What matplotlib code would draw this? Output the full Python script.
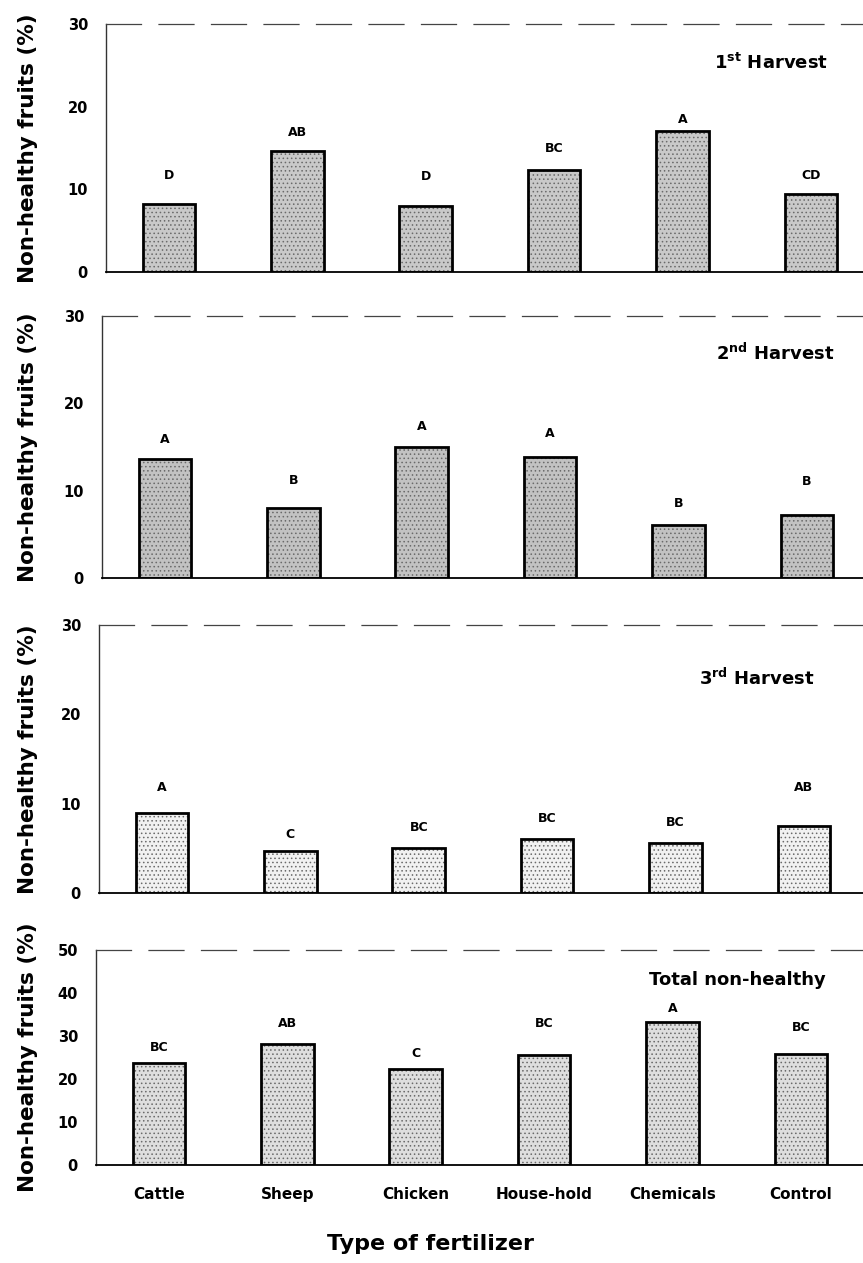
import matplotlib
matplotlib.use("Agg")
import matplotlib.pyplot as plt

plt.rcParams['font.family'] = ['DejaVu Sans']
plt.rcParams['font.weight'] = 'bold'
plt.rcParams['mathtext.default'] = 'bf'
plt.rcParams['hatch.linewidth'] = 0.6

categories = ["Cattle", "Sheep", "Chicken", "House-hold", "Chemicals", "Control"]

harvest1 = [8.2, 14.6, 8.0, 12.3, 17.0, 9.4]
harvest1_letters = ["D", "AB", "D", "BC", "A", "CD"]
harvest1_letter_y = [11.7, 16.9, 11.6, 15.0, 18.5, 11.7]

harvest2 = [13.6, 8.0, 15.0, 13.8, 6.1, 7.2]
harvest2_letters = ["A", "B", "A", "A", "B", "B"]
harvest2_letter_y = [15.9, 11.2, 17.3, 16.6, 8.5, 11.1]

harvest3 = [9.0, 4.7, 5.0, 6.0, 5.6, 7.5]
harvest3_letters = ["A", "C", "BC", "BC", "BC", "AB"]
harvest3_letter_y = [11.8, 6.6, 7.3, 8.3, 7.9, 11.8]

total = [23.8, 28.2, 22.4, 25.6, 33.2, 25.8]
total_letters = ["BC", "AB", "C", "BC", "A", "BC"]
total_letter_y = [27.4, 32.8, 26.0, 33.0, 36.3, 31.9]

panel_titles = [r"1$^{st}$ Harvest", r"2$^{nd}$ Harvest", r"3$^{rd}$ Harvest", "Total non-healthy"]
y_max = [30, 30, 30, 50]
y_ticks = [[0, 10, 20, 30], [0, 10, 20, 30], [0, 10, 20, 30], [0, 10, 20, 30, 40, 50]]

values = [harvest1, harvest2, harvest3, total]
letters = [harvest1_letters, harvest2_letters, harvest3_letters, total_letters]
letter_y = [harvest1_letter_y, harvest2_letter_y, harvest3_letter_y, total_letter_y]

W, H = 863, 1263
fig = plt.figure(figsize=(W / 100, H / 100), dpi=100)

# layout in pixels: (left, y of zero, y of top)
layout = [(106, 272, 24), (102, 578, 316), (99, 893, 625), (96, 1165, 950)]
title_pos = [(828, 63), (834, 353), (815, 678), (826, 980)]
face_shades = ['#c9c9c9', '#c2c2c2', '#f1f1f1', '#dedede']
px_per_cat = 128.4

for i in range(4):
    left, y0, yt = layout[i]
    ax = fig.add_axes([left / W, 1 - y0 / H, 1 - left / W, (y0 - yt) / H])
    x = list(range(len(categories)))
    ax.bar(x, values[i], width=0.41, color=face_shades[i], edgecolor='#6a6a6a',
           hatch='....', linewidth=0, zorder=2)
    ax.bar(x, values[i], width=0.41, fill=False, edgecolor='black', linewidth=2.0, zorder=3)
    for xi, lab, ly in zip(x, letters[i], letter_y[i]):
        ax.text(xi, ly, lab, ha='center', va='center', fontsize=9, fontweight='bold')
    ax.set_xlim(-0.49, -0.49 + (W - left) / px_per_cat)
    ax.set_ylim(0, y_max[i])
    ax.set_yticks(y_ticks[i])
    ax.tick_params(axis='y', length=0, pad=13, labelsize=10.5)
    ax.tick_params(axis='x', length=0, pad=16, labelsize=11)
    if i == 3:
        ax.set_xticks(x)
        ax.set_xticklabels(categories)
    else:
        ax.set_xticks([])
    ax.spines['right'].set_visible(False)
    ax.spines['top'].set_linestyle((0, (28, 14)))
    ax.spines['top'].set_linewidth(0.9)
    ax.spines['top'].set_color('#444444')
    ax.spines['left'].set_linewidth(1.0)
    ax.spines['left'].set_color('#333333')
    ax.spines['bottom'].set_linewidth(1.3)
    ax.patch.set_alpha(0)
    tx, ty = title_pos[i]
    fig.text(tx / W, 1 - ty / H, panel_titles[i], ha='right', va='center',
             fontsize=13, fontweight='bold')
    fig.text(28 / W, 1 - ((y0 + yt) / 2) / H, "Non-healthy fruits (%)", rotation=90,
             ha='center', va='center', fontsize=15.5, fontweight='bold')

fig.text(430 / W, 1 - 1244 / H, "Type of fertilizer", ha='center', va='center',
         fontsize=16, fontweight='bold')

fig.savefig("out.png", dpi=100, facecolor='white')
